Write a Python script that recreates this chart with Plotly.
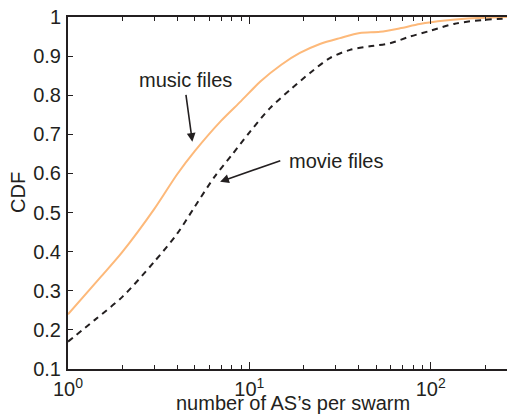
import math
import plotly.graph_objects as go

# ---- data ----
music_x = [1, 1.5, 2, 3, 4, 5, 7, 9, 11.5, 15, 19, 24.5, 31.6, 40.7, 52.5, 67.7, 87,
           120, 160, 220, 300]
music_y = [0.24, 0.333, 0.40, 0.51, 0.598, 0.657, 0.735, 0.785, 0.835, 0.878, 0.908,
           0.931, 0.946, 0.959, 0.962, 0.971, 0.982, 0.991, 0.996, 0.999, 1.0]

movie_x = [1, 1.4, 2, 3, 4, 5, 6.44, 8, 10.1, 13, 16.8, 21.6, 27.8, 35.9, 46.2, 59.7,
           76.9, 100, 136, 200, 300]
movie_y = [0.17, 0.225, 0.285, 0.375, 0.446, 0.515, 0.592, 0.647, 0.707, 0.767, 0.814,
           0.857, 0.895, 0.916, 0.925, 0.933, 0.950, 0.965, 0.983, 0.993, 0.997]

x_major = [1, 10, 100]
x_major_text = ["10<sup>0</sup>", "10<sup>1</sup>", "10<sup>2</sup>"]
x_minor = [2, 3, 4, 5, 6, 7, 8, 9, 20, 30, 40, 50, 60, 70, 80, 90, 200]
y_ticks = [0.1, 0.2, 0.3, 0.4, 0.5, 0.6, 0.7, 0.8, 0.9, 1.0]
y_text = ["0.1", "0.2", "0.3", "0.4", "0.5", "0.6", "0.7", "0.8", "0.9", "1"]

INK = "#231F20"
FONT = "Liberation Sans, Arial, sans-serif"
FS = 20

fig = go.Figure()
fig.add_trace(go.Scatter(x=music_x, y=music_y, mode="lines", line_shape="spline",
                         line=dict(color="#FDB97A", width=2, smoothing=0.8),
                         showlegend=False))
fig.add_trace(go.Scatter(x=movie_x, y=movie_y, mode="lines", line_shape="spline",
                         line=dict(color=INK, width=2, dash="6px,5px", smoothing=0.8),
                         showlegend=False))
# invisible trace to host right-side ticks
fig.add_trace(go.Scatter(x=[1], y=[0.1], yaxis="y2", mode="markers",
                         marker=dict(opacity=0), showlegend=False, hoverinfo="skip"))

# page has an 8px body margin; plot area in page pixels: x 68..515, y 17..369
xr = [0, 2.465]
fig.update_layout(
    width=507, height=409,
    margin=dict(l=60, r=0, t=9, b=48),
    paper_bgcolor="white", plot_bgcolor="white",
    font=dict(family=FONT, size=FS, color=INK),
    xaxis=dict(type="log", range=xr, tickvals=x_major, ticktext=x_major_text,
               ticks="inside", ticklen=7, tickwidth=1, tickcolor=INK,
               minor=dict(tickvals=x_minor, ticks="inside", ticklen=4, tickcolor=INK),
               showline=True, linecolor=INK, linewidth=2, mirror="ticks",
               showgrid=False, zeroline=False, automargin=False,
               ticklabelstandoff=1, ticklabeloverflow="allow",
               tickfont=dict(size=FS)),
    yaxis=dict(range=[0.1, 1.0], tickvals=y_ticks, ticktext=y_text,
               ticks="inside", ticklen=5, tickcolor=INK,
               showline=True, linecolor=INK, linewidth=2,
               showgrid=False, zeroline=False, automargin=False,
               ticklabeloverflow="allow", ticklabelstandoff=1,
               tickfont=dict(size=FS)),
    yaxis2=dict(range=[0.1, 1.0], overlaying="y", side="right", tickvals=y_ticks,
                ticks="inside", ticklen=5, tickcolor=INK, showticklabels=False,
                showline=False, showgrid=False, zeroline=False, automargin=False),
)

def lx(v):
    return math.log10(v)

anns = [
    dict(text="music files", x=lx(4.45), y=0.839, xref="x", yref="y", showarrow=False,
         font=dict(size=FS, color=INK)),
    dict(text="movie files", x=lx(29.9), y=0.632, xref="x", yref="y", showarrow=False,
         font=dict(size=FS, color=INK)),
    dict(text="", x=lx(4.85), y=0.681, ax=lx(4.46), ay=0.805, xref="x", yref="y",
         axref="x", ayref="y", showarrow=True, arrowhead=2, arrowsize=1.1,
         arrowwidth=1.6, arrowcolor=INK),
    dict(text="", x=lx(6.9), y=0.579, ax=lx(15.1), ay=0.634, xref="x", yref="y",
         axref="x", ayref="y", showarrow=True, arrowhead=2, arrowsize=1.1,
         arrowwidth=1.6, arrowcolor=INK),
    dict(text="number of AS\u2019s per swarm", x=293, y=403, showarrow=False,
         font=dict(size=FS, color=INK)),
    dict(text="CDF", textangle=-90, x=18, y=193, showarrow=False,
         font=dict(size=FS, color=INK)),
]
# convert page-pixel-located titles to paper coordinates
for a in anns[4:]:
    a["xref"], a["yref"] = "paper", "paper"
    a["x"] = (a["x"] - 68) / 447
    a["y"] = (369 - a["y"]) / 352
    a["xanchor"], a["yanchor"] = "center", "middle"
fig.update_layout(annotations=anns)

fig.write_html("out.html")
